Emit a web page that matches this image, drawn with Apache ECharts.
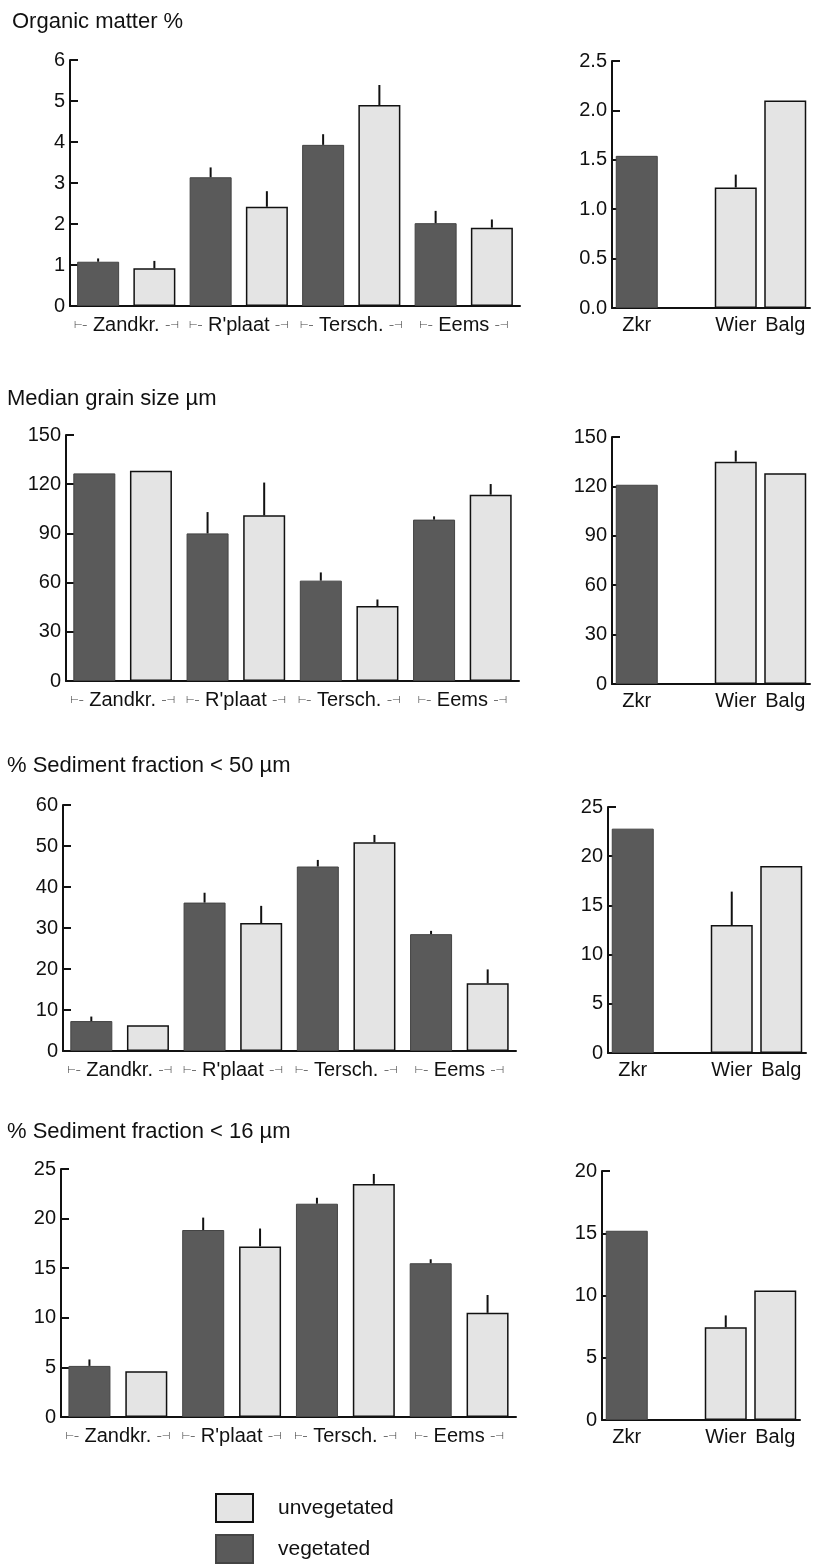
<!DOCTYPE html>
<html>
<head>
<meta charset="utf-8">
<script src="https://cdn.jsdelivr.net/npm/echarts@6.0.0/dist/echarts.min.js"></script>
<style>
  body { margin: 0; background: #fff; }
  #chart { width: 813px; height: 1564px; }
</style>
</head>
<body>
<div id="chart"></div>
<script>
var sites = ["Zandkr.", "R'plaat", "Tersch.", "Eems"];
var rightSites = ["Zkr", "", "Wier", "Balg"];
var rightIsVeg = [true, false, false, false];
var legendNames = ["unvegetated", "vegetated"];

// organic matter %
var omVeg = [1.08, 3.14, 3.93, 2.02];
var omVegSd = [0.08, 0.24, 0.26, 0.3];
var omUnveg = [0.92, 2.42, 4.9, 1.91];
var omUnvegSd = [0.18, 0.38, 0.49, 0.2];
var omRight = [1.54, null, 1.22, 2.1];
var omRightSd = [0, 0, 0.13, 0];

// median grain size
var mgVeg = [126.6, 90, 61.2, 98.4];
var mgVegSd = [0, 13, 5, 2];
var mgUnveg = [128.2, 101, 45.7, 113.6];
var mgUnvegSd = [0, 20, 4, 6.5];
var mgRight = [121, null, 135, 128];
var mgRightSd = [0, 0, 6.7, 0];

// fraction < 50 um
var f50Veg = [7.3, 36.2, 45, 28.5];
var f50VegSd = [1.1, 2.4, 1.6, 0.8];
var f50Unveg = [6.3, 31.2, 50.9, 16.5];
var f50UnvegSd = [0, 4.2, 1.8, 3.4];
var f50Right = [22.8, null, 13, 19];
var f50RightSd = [0, 0, 3.4, 0];

// fraction < 16 um
var f16Veg = [5.15, 18.85, 21.5, 15.5];
var f16VegSd = [0.65, 1.25, 0.6, 0.4];
var f16Unveg = [4.6, 17.2, 23.5, 10.5];
var f16UnvegSd = [0, 1.8, 1, 1.8];
var f16Right = [15.2, null, 7.45, 10.4];
var f16RightSd = [0, 0, 0.95, 0];

var FONT = "'Liberation Sans', Arial, sans-serif";
var INK = "#111";
var DARK = "#5a5a5a";
var LIGHT = "#e4e4e4";

var panels = [
  { title: "Organic matter %", tx: 7, ty: 6, veg: omVeg, vegSd: omVegSd, unveg: omUnveg, unvegSd: omUnvegSd,
    right: omRight, rightSd: omRightSd, max: 6, step: 1, rMax: 2.5, rStep: 0.5, rDigits: 1,
    left: [70, 60, 450, 246], rgrid: [612, 61, 198, 247] },
  { title: "Median grain size \u00b5m", tx: 2, ty: 383, veg: mgVeg, vegSd: mgVegSd, unveg: mgUnveg, unvegSd: mgUnvegSd,
    right: mgRight, rightSd: mgRightSd, max: 150, step: 30, rMax: 150, rStep: 30, rDigits: 0,
    left: [66, 435, 453, 246], rgrid: [612, 437, 198, 247] },
  { title: "% Sediment fraction < 50 \u00b5m", tx: 2, ty: 750, veg: f50Veg, vegSd: f50VegSd, unveg: f50Unveg, unvegSd: f50UnvegSd,
    right: f50Right, rightSd: f50RightSd, max: 60, step: 10, rMax: 25, rStep: 5, rDigits: 0,
    left: [63, 805, 453, 246], rgrid: [608, 807, 198, 246] },
  { title: "% Sediment fraction < 16 \u00b5m", tx: 2, ty: 1116, veg: f16Veg, vegSd: f16VegSd, unveg: f16Unveg, unvegSd: f16UnvegSd,
    right: f16Right, rightSd: f16RightSd, max: 25, step: 5, rMax: 20, rStep: 5, rDigits: 0,
    left: [61, 1169, 455, 248], rgrid: [602, 1171, 198, 249] }
];

function renderErr(params, api) {
  var base = api.coord([api.value(0), api.value(1)]);
  var top = api.coord([api.value(0), api.value(1) + api.value(2)]);
  return {
    type: "line",
    shape: { x1: base[0], y1: base[1], x2: top[0], y2: top[1] },
    style: { stroke: INK, lineWidth: 2 }
  };
}

function yAxisFor(gridIndex, max, step, digits) {
  return {
    type: "value", gridIndex: gridIndex, min: 0, max: max, interval: step,
    axisLine: { show: true, lineStyle: { color: INK, width: 2 } },
    axisTick: { show: true, inside: true, length: 8, lineStyle: { color: INK, width: 2 } },
    axisLabel: { color: INK, fontSize: 20, fontFamily: FONT, margin: 5,
      formatter: function (v) { return v.toFixed(digits); } },
    splitLine: { show: false }
  };
}

// one legend per entry so they stack like the original key
function legendFor(name, top) {
  return {
    data: [name], left: 215, top: top, padding: 0,
    itemWidth: 37, itemHeight: 28, icon: "rect", selectedMode: false,
    textStyle: { color: INK, fontSize: 21, fontFamily: FONT, padding: [0, 0, 0, 20] }
  };
}

var option = {
  animation: false,
  title: [], grid: [], xAxis: [], yAxis: [], series: [],
  legend: [legendFor(legendNames[0], 1493), legendFor(legendNames[1], 1534)]
};

panels.forEach(function (p) {
  option.title.push({
    text: p.title, left: p.tx, top: p.ty,
    textStyle: { color: INK, fontSize: 22, fontWeight: "normal", fontFamily: FONT }
  });

  // left plot: 8 slots, veg/unveg alternating
  var g = option.grid.length;
  option.grid.push({ left: p.left[0], top: p.left[1], width: p.left[2], height: p.left[3] });
  var slots = [], vegData = [], unvegData = [], errData = [];
  sites.forEach(function (s, i) {
    slots.push(s + " v", s + " u");
    vegData.push(p.veg[i], "-");
    unvegData.push("-", p.unveg[i]);
    if (p.vegSd[i] > 0) errData.push([2 * i, p.veg[i], p.vegSd[i]]);
    if (p.unvegSd[i] > 0) errData.push([2 * i + 1, p.unveg[i], p.unvegSd[i]]);
  });
  var xa = option.xAxis.length;
  option.xAxis.push({
    type: "category", gridIndex: g, data: slots,
    axisLine: { lineStyle: { color: INK, width: 2 } },
    axisTick: { show: false }, axisLabel: { show: false }
  });
  option.xAxis.push({
    type: "category", gridIndex: g, data: sites, position: "bottom",
    axisLine: { show: false }, axisTick: { show: false },
    axisLabel: {
      interval: 0, hideOverlap: false,
      color: INK, fontSize: 20, fontFamily: FONT, margin: 9,
      formatter: function (v) { return "{b|\u22a2\u2013} " + v + " {b|\u2013\u22a3}"; },
      rich: { b: { fontSize: 10, color: "#444", fontFamily: "DejaVu Sans" } }
    }
  });
  var ya = option.yAxis.length;
  option.yAxis.push(yAxisFor(g, p.max, p.step, 0));
  option.series.push(
    { name: legendNames[1], type: "bar", xAxisIndex: xa, yAxisIndex: ya, data: vegData,
      barWidth: 42, barGap: "-100%", itemStyle: { color: DARK, borderColor: "#444", borderWidth: 1 } },
    { name: legendNames[0], type: "bar", xAxisIndex: xa, yAxisIndex: ya, data: unvegData,
      barWidth: 42, barGap: "-100%", itemStyle: { color: LIGHT, borderColor: INK, borderWidth: 1.5 } },
    { type: "custom", xAxisIndex: xa, yAxisIndex: ya, data: errData, renderItem: renderErr, z: 5 }
  );

  // right plot
  g = option.grid.length;
  option.grid.push({ left: p.rgrid[0], top: p.rgrid[1], width: p.rgrid[2], height: p.rgrid[3] });
  var rVeg = [], rUnveg = [], rErr = [];
  rightSites.forEach(function (s, i) {
    var v = p.right[i];
    rVeg.push(v != null && rightIsVeg[i] ? v : "-");
    rUnveg.push(v != null && !rightIsVeg[i] ? v : "-");
    if (p.rightSd[i] > 0) rErr.push([i, v, p.rightSd[i]]);
  });
  xa = option.xAxis.length;
  option.xAxis.push({
    type: "category", gridIndex: g, data: rightSites,
    axisLine: { lineStyle: { color: INK, width: 2 } }, axisTick: { show: false },
    axisLabel: { interval: 0, hideOverlap: false, color: INK, fontSize: 20, fontFamily: FONT, margin: 7 }
  });
  ya = option.yAxis.length;
  option.yAxis.push(yAxisFor(g, p.rMax, p.rStep, p.rDigits));
  option.series.push(
    { name: legendNames[1], type: "bar", xAxisIndex: xa, yAxisIndex: ya, data: rVeg,
      barWidth: 42, barGap: "-100%", itemStyle: { color: DARK, borderColor: "#444", borderWidth: 1 } },
    { name: legendNames[0], type: "bar", xAxisIndex: xa, yAxisIndex: ya, data: rUnveg,
      barWidth: 42, barGap: "-100%", itemStyle: { color: LIGHT, borderColor: INK, borderWidth: 1.5 } },
    { type: "custom", xAxisIndex: xa, yAxisIndex: ya, data: rErr, renderItem: renderErr, z: 5 }
  );
});

var myChart = echarts.init(document.getElementById("chart"));
myChart.setOption(option);
</script>
</body>
</html>
